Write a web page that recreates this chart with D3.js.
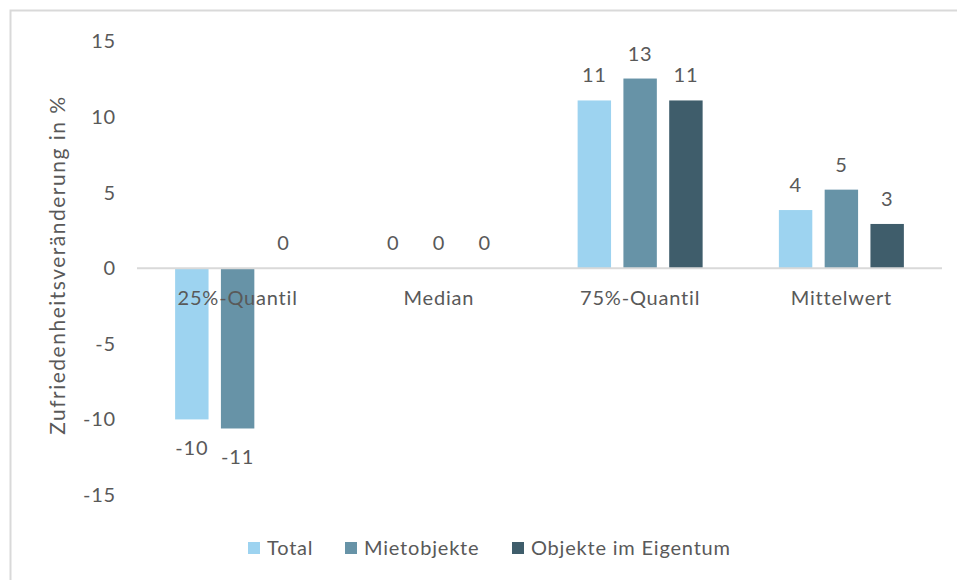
<!DOCTYPE html>
<html><head><meta charset="utf-8">
<script src="https://cdn.jsdelivr.net/npm/d3@7"></script>
<style>body{margin:0;background:#fff}svg{display:block}text{font-family:Lato,"Open Sans",sans-serif;fill:#595959;letter-spacing:0.8px}</style>
</head><body><svg id="c" width="957" height="580"></svg>
<script>
const categories = ["25%-Quantil","Median","75%-Quantil","Mittelwert"];
const seriesNames = ["Total","Mietobjekte","Objekte im Eigentum"];
const total = [-10.0, 0, 11.1, 3.85];
const mietobjekte = [-10.6, 0, 12.55, 5.2];
const eigentum = [0, 0, 11.1, 2.93];
const yTicks = [-15,-10,-5,0,5,10,15];
const colors = ["#9dd3f0","#6793a7","#3f5d6b"];
const yTitle = "Zufriedenheitsveränderung in %";

const series = [total, mietobjekte, eigentum];
const fmt = v => String(Math.round(v)).replace("\u2212","-");
const svg = d3.select("#c");
// frame
svg.append("rect").attr("x",10.5).attr("y",10.5).attr("width",960).attr("height",600)
  .attr("fill","none").attr("stroke","#d9d9d9").attr("stroke-width",2);

const x0 = d3.scaleBand().domain(categories).range([137,942]).paddingInner(0).paddingOuter(0);
const y = d3.scaleLinear().domain([-15,15]).range([495,41.5]);
const x1 = d3.scaleBand().domain(seriesNames).range([0,125]).paddingInner(0.27);
const off = (x0.bandwidth()-125)/2;

// y tick labels
const ya = svg.append("g").attr("transform","translate(116,0)")
  .call(d3.axisLeft(y).tickValues(yTicks).tickSize(0).tickPadding(0).tickFormat(d=>String(d)));
ya.select(".domain").remove();
ya.selectAll("text").style("font-size","20px").style("font-family","Lato").attr("fill","#595959");

// y title
svg.append("text").attr("transform","translate(65,265) rotate(-90)").attr("text-anchor","middle")
  .style("font-size","21px").style("letter-spacing","1.5px").text(yTitle);

// bars
categories.forEach((c,i)=>{
  series.forEach((s,j)=>{
    const v = s[i];
    const xx = x0(c)+off+x1(seriesNames[j]);
    svg.append("rect").attr("x",xx).attr("width",x1.bandwidth())
      .attr("y",y(Math.max(0,v))).attr("height",Math.abs(y(v)-y(0)))
      .attr("fill",colors[j]);
    svg.append("text").attr("x",xx+x1.bandwidth()/2)
      .attr("y", v>=0 ? y(v)-18 : y(v)+36)
      .attr("text-anchor","middle").style("font-size","20px").text(fmt(v));
  });
});

// zero axis line
svg.append("line").attr("x1",137).attr("x2",942).attr("y1",y(0)).attr("y2",y(0))
  .attr("stroke","#d9d9d9").attr("stroke-width",2);

// category labels
categories.forEach(c=>{
  svg.append("text").attr("x",x0(c)+x0.bandwidth()/2).attr("y",305)
    .attr("text-anchor","middle").style("font-size","20px").text(c);
});

// legend
const lx = [248,345,512];
seriesNames.forEach((n,j)=>{
  svg.append("rect").attr("x",lx[j]).attr("y",542).attr("width",12).attr("height",12).attr("fill",colors[j]);
  svg.append("text").attr("x",lx[j]+19).attr("y",555).style("font-size","20px").text(n);
});
</script></body></html>
